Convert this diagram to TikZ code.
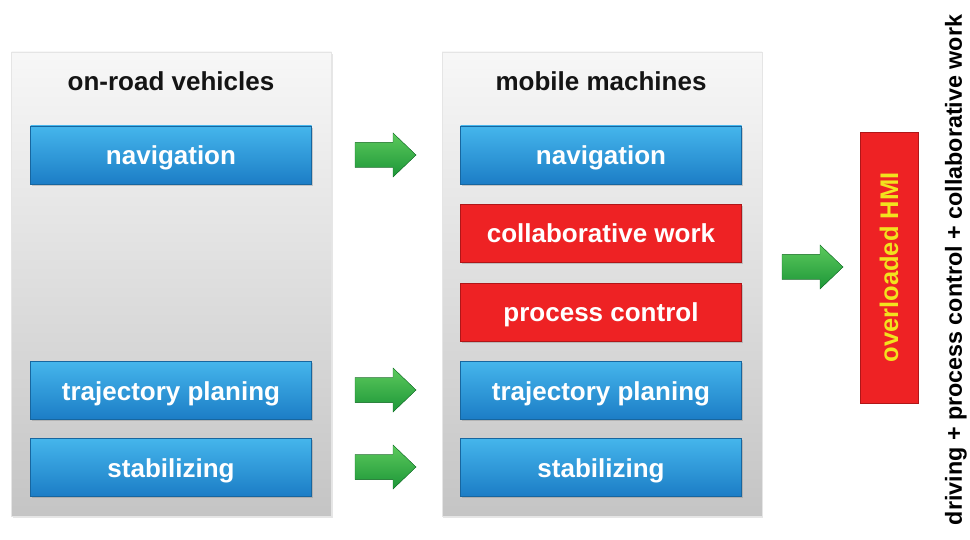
\documentclass[tikz,border=0pt]{standalone}
\usepackage{fontspec}
\setmainfont{Liberation Sans}
\usetikzlibrary{shadows}
\definecolor{bluetop}{HTML}{45B6EC}
\definecolor{bluebot}{HTML}{1C7DC6}
\definecolor{blueedge}{HTML}{17669F}
\definecolor{redfill}{HTML}{EE2224}
\definecolor{rededge}{HTML}{B01618}
\definecolor{greentop}{HTML}{5CC95C}
\definecolor{greenbot}{HTML}{1C9638}
\definecolor{hmiyellow}{HTML}{F2E21E}
\tikzset{
  panel/.style={draw=black!10, top color=black!3, bottom color=black!23, minimum width=320pt, minimum height=464pt,
    drop shadow={opacity=.2, shadow xshift=1pt, shadow yshift=-2pt}},
  btn/.style={minimum width=281pt, minimum height=58pt, inner sep=0pt, text=white,
    text height=20pt, text depth=0pt,
    font=\fontsize{26}{30}\selectfont\bfseries,
    drop shadow={opacity=.35, shadow xshift=1pt, shadow yshift=-2pt}},
  bluebtn/.style={btn, draw=blueedge, top color=bluetop, bottom color=bluebot},
  redbtn/.style={btn, draw=rededge, fill=redfill},
  heading/.style={font=\fontsize{26}{30}\selectfont\bfseries, text=black!92},
  greenarrow/.style={draw=greenbot!80!black, top color=greentop, bottom color=greenbot}
}
\begin{document}
\begin{tikzpicture}[x=1pt, y=-1pt]
\def\blockarrow{(0,-12.5) -- (38,-12.5) -- (38,-22) -- (61,0) -- (38,22) -- (38,12.5) -- (0,12.5) -- cycle}
\useasboundingbox (0,0) rectangle (970,540);
% two columns
\node[panel] (road) at (171.5,284) {};
\node[panel] (mobile) at (602,284) {};
\node[heading] (roadtitle) at (171,81) {on-road vehicles};
\node[heading] (mobiletitle) at (601,81) {mobile machines};
% on-road functions
\node[bluebtn] (navL) at (171,155) {navigation};
\node[bluebtn] (trajL) at (171,390) {trajectory planing};
\node[bluebtn] (stabL) at (171,467) {stabilizing};
% mobile machine functions
\node[bluebtn] (navR) at (601,155) {navigation};
\node[redbtn] (collabR) at (601,233) {collaborative work};
\node[redbtn] (procR) at (601,312) {process control};
\node[bluebtn] (trajR) at (601,390) {trajectory planing};
\node[bluebtn] (stabR) at (601,467) {stabilizing};
% arrows
\foreach \ay in {155,390,467}{
  \begin{scope}[shift={(355,\ay)}]
    \fill[greenarrow] \blockarrow;
  \end{scope}
}
\begin{scope}[shift={(782,267)}]
  \fill[greenarrow] \blockarrow;
\end{scope}
% result
\node[rotate=90, draw=rededge, fill=redfill, minimum width=271pt, minimum height=58pt, inner sep=0pt,
  text=hmiyellow, font=\fontsize{25.5}{30}\selectfont\bfseries] (hmi) at (889,267.5) {overloaded HMI};
\node[rotate=90, inner sep=0pt, font=\fontsize{23.3}{28}\selectfont\bfseries] (sum) at (956,270)
  {driving + process control + collaborative work};
\end{tikzpicture}
\end{document}
